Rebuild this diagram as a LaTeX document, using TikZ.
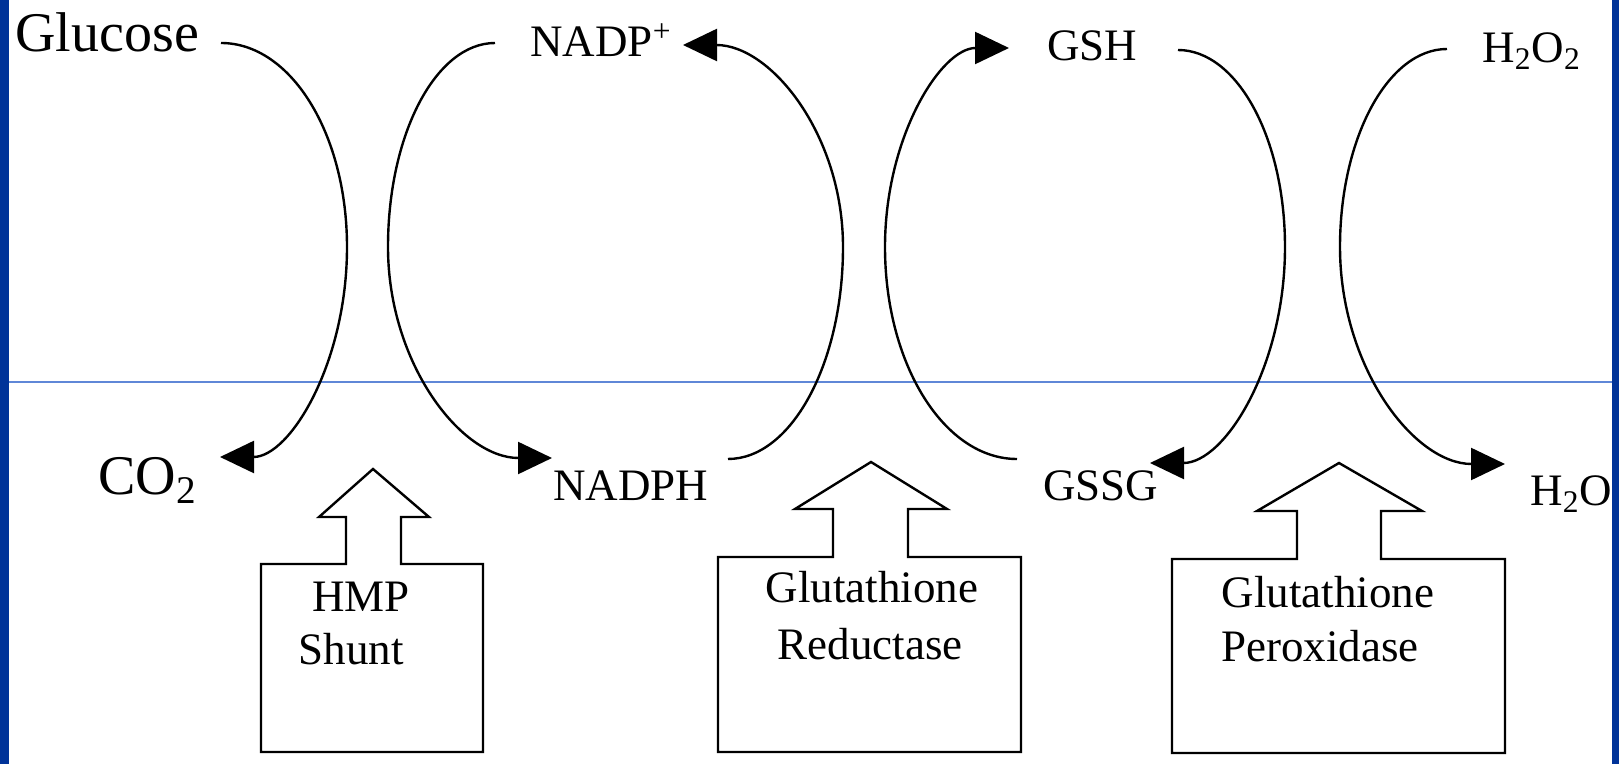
\documentclass[tikz,border=0pt]{standalone}
\usepackage{fontspec}
\setmainfont{Liberation Serif}
\usetikzlibrary{arrows.meta}
\definecolor{frameblue}{RGB}{0,51,153}
\definecolor{lineblue}{RGB}{95,135,215}
\begin{document}
\begin{tikzpicture}[x=0.5pt,y=-0.5pt,
  lbl/.style={inner sep=0,anchor=base west,font=\fontsize{22.5}{27}\selectfont},
  biglbl/.style={inner sep=0,anchor=base west,font=\fontsize{28}{33}\selectfont},
  enz/.style={inner sep=0,anchor=base,font=\fontsize{22.5}{27}\selectfont},
  flow/.style={line width=1.2pt,-{Triangle[length=17pt,width=16pt]}},
  enzbox/.style={line width=1.2pt,line join=miter}]
\useasboundingbox (0,0) rectangle (1619,764);
\fill[white] (0,0) rectangle (1619,764);
\draw[lineblue,line width=0.6pt] (9,382) -- (1612,382);

% labels
\node[biglbl] (glucose) at (15,52) {Glucose};
\node[biglbl] (co2) at (98,495) {CO\textsubscript{2}};
\node[lbl] (nadp) at (530,57) {NADP\textsuperscript{+}};
\node[lbl] (nadph) at (553,501) {NADPH};
\node[lbl] (gsh) at (1047,61) {GSH};
\node[lbl] (gssg) at (1043,501) {GSSG};
\node[lbl] (h2o2) at (1482,63) {H\textsubscript{2}O\textsubscript{2}};
\node[lbl] (h2o) at (1530,506) {H\textsubscript{2}O};

% connector end points
\coordinate (s1) at (221,43);   \coordinate (e1) at (220,457);
\coordinate (s2) at (495,43);   \coordinate (e2) at (552,458);
\coordinate (s3) at (728,459);  \coordinate (e3) at (683,45);
\coordinate (s4) at (1017,459); \coordinate (e4) at (1009,48);
\coordinate (s5) at (1178,50);  \coordinate (e5) at (1150,463);
\coordinate (s6) at (1447,49);  \coordinate (e6) at (1505,464);

\draw[flow] (s1) .. controls (291,43) and (347,134) .. (347,247)
                 .. controls (347,363) and (290,457) .. (e1);
\draw[flow] (s2) .. controls (436,43) and (388,134) .. (388,247)
                 .. controls (388,363) and (461,458) .. (e2);
\draw[flow] (s3) .. controls (791,459) and (843,364) .. (843,247)
                 .. controls (843,135) and (771,45) .. (e3);
\draw[flow] (s4) .. controls (944,459) and (885,364) .. (885,247)
                 .. controls (885,137) and (941,48) .. (e4);
\draw[flow] (s5) .. controls (1237,50) and (1285,138) .. (1285,247)
                 .. controls (1285,366) and (1225,463) .. (e5);
\draw[flow] (s6) .. controls (1388,49) and (1340,138) .. (1340,247)
                 .. controls (1340,367) and (1414,464) .. (e6);

% enzyme boxes
\draw[enzbox] (261,752) -- (261,564) -- (346,564) -- (346,517) -- (319,517)
  -- (373,469) -- (429,517) -- (401,517) -- (401,564) -- (483,564) -- (483,752) -- cycle;
\draw[enzbox] (718,752) -- (718,557) -- (833,557) -- (833,509) -- (795,509)
  -- (871,462) -- (947,509) -- (908,509) -- (908,557) -- (1021,557) -- (1021,752) -- cycle;
\draw[enzbox] (1172,753) -- (1172,559) -- (1297,559) -- (1297,511) -- (1257,511)
  -- (1339,463) -- (1422,511) -- (1381,511) -- (1381,559) -- (1505,559) -- (1505,753) -- cycle;

\node[enz] (hmp1) at (361,612) {HMP};
\node[enz] (hmp2) at (351,665) {Shunt};
\node[enz] (gr1) at (872,603) {Glutathione};
\node[enz] (gr2) at (870,660) {Reductase};
\node[enz] (gp1) at (1328,608) {Glutathione};
\node[enz] (gp2) at (1320,662) {Peroxidase};

% frame strips
\fill[frameblue] (0,0) rectangle (9,764);
\fill[frameblue] (1612,0) rectangle (1619,764);
\end{tikzpicture}
\end{document}
